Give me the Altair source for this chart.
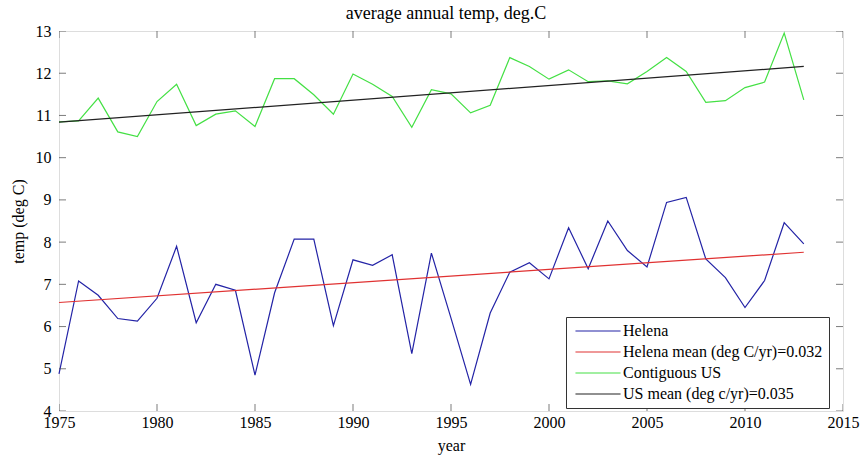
import altair as alt
import pandas as pd

# ---- data ----
years = list(range(1975, 2014))
helena = [4.88, 7.08, 6.74, 6.19, 6.13, 6.67, 7.90, 6.09, 7.00, 6.86,
          4.85, 6.80, 8.07, 8.07, 6.02, 7.58, 7.45, 7.70, 5.36, 7.74,
          6.20, 4.63, 6.32, 7.29, 7.51, 7.13, 8.34, 7.37, 8.50, 7.80,
          7.41, 8.94, 9.06, 7.60, 7.16, 6.45, 7.09, 8.46, 7.96]
us = [10.85, 10.87, 11.41, 10.61, 10.50, 11.33, 11.74, 10.76, 11.03, 11.11,
      10.74, 11.87, 11.87, 11.49, 11.03, 11.98, 11.74, 11.45, 10.72, 11.61,
      11.51, 11.06, 11.24, 12.37, 12.16, 11.86, 12.08, 11.80, 11.82, 11.75,
      12.04, 12.37, 12.04, 11.31, 11.35, 11.66, 11.79, 12.95, 11.37]
trend_years = [1975, 2013]
helena_trend = [6.57, 7.76]
us_trend = [10.84, 12.16]

series_names = ["Helena", "Helena mean (deg C/yr)=0.032",
                "Contiguous US", "US mean (deg c/yr)=0.035"]
series_colors = ["#2323a6", "#e03232", "#44e044", "#222222"]
x_ticks = [1975, 1980, 1985, 1990, 1995, 2000, 2005, 2010, 2015]
y_ticks = [4, 5, 6, 7, 8, 9, 10, 11, 12, 13]

rows = []
for yr, v in zip(years, helena):
    rows.append({"series": series_names[0], "year": yr, "temp": v})
for yr, v in zip(trend_years, helena_trend):
    rows.append({"series": series_names[1], "year": yr, "temp": v})
for yr, v in zip(years, us):
    rows.append({"series": series_names[2], "year": yr, "temp": v})
for yr, v in zip(trend_years, us_trend):
    rows.append({"series": series_names[3], "year": yr, "temp": v})
df = pd.DataFrame(rows)

xt = pd.DataFrame([{"year": t, "temp": b} for t in x_ticks for b in (y_ticks[0], y_ticks[-1])])
yt = pd.DataFrame([{"year": b, "temp": t} for t in y_ticks for b in (x_ticks[0], x_ticks[-1])])

FONT = "Liberation Serif, 'Times New Roman', Times, 'DejaVu Serif', serif"
xscale = alt.Scale(domain=[1975, 2015], nice=False, zero=False)
yscale = alt.Scale(domain=[4, 13], nice=False, zero=False)

lines = alt.Chart(df).mark_line(strokeWidth=1.2).encode(
    x=alt.X("year:Q", scale=xscale,
            axis=alt.Axis(values=x_ticks, format="d", title="year", ticks=False,
                          domain=False, grid=False, labelFont=FONT, labelFontSize=16,
                          labelColor="black", labelPadding=3, titleFont=FONT,
                          titleFontSize=16, titleFontWeight="normal", titleColor="black",
                          titleY=34, titleBaseline="middle", labelFlush=False)),
    y=alt.Y("temp:Q", scale=yscale,
            axis=alt.Axis(values=y_ticks, format="d", title="temp (deg C)", ticks=False,
                          domain=False, grid=False, labelFont=FONT, labelFontSize=16,
                          labelColor="black", labelPadding=8, titleFont=FONT,
                          titleFontSize=16, titleFontWeight="normal", titleColor="black",
                          titleX=-41, titleBaseline="middle", labelFlush=False)),
    color=alt.Color("series:N",
                    scale=alt.Scale(domain=series_names, range=series_colors),
                    legend=alt.Legend(title=None, orient="none", legendX=507, legendY=286,
                                      symbolType="M-4,0H4", symbolSize=127,
                                      symbolStrokeWidth=1.2, symbolOffset=18,
                                      labelFont=FONT, labelFontSize=16, labelColor="black",
                                      strokeColor="#333", fillColor="white", padding=6,
                                      rowPadding=5, labelOffset=17, labelLimit=400,
                                      cornerRadius=0)),
    order=alt.Order("year:Q"),
)

xtick = alt.Chart(xt).mark_tick(orient="vertical", size=14, thickness=1,
                                color="#444", clip=True).encode(
    x=alt.X("year:Q", scale=xscale), y=alt.Y("temp:Q", scale=yscale))
ytick = alt.Chart(yt).mark_tick(orient="horizontal", size=14, thickness=1,
                                color="#444", clip=True).encode(
    x=alt.X("year:Q", scale=xscale), y=alt.Y("temp:Q", scale=yscale))

chart = alt.layer(lines, xtick, ytick).properties(
    width=784, height=380,
    title=alt.TitleParams("average annual temp, deg.C", font=FONT, fontSize=18,
                          fontWeight="normal", color="black", anchor="middle",
                          offset=0, dx=-5),
    autosize=alt.AutoSizeParams(type="none"),
    padding={"left": 59, "top": 31, "right": 22, "bottom": 51},
    background="white",
).configure_view(stroke="#444", strokeWidth=1
).configure_legend(labelFont=FONT, labelFontSize=16, labelColor="black"
).configure(font=FONT)

chart.save("out.html", embed_options={"renderer": "svg", "actions": False})
